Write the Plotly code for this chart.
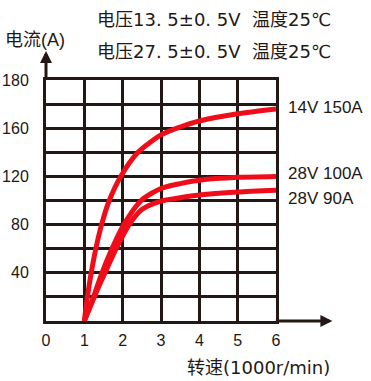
import plotly.graph_objects as go

# data
x_14v_150a = [1, 1.08, 1.18, 1.3, 1.45, 1.65, 1.95, 2.4, 3, 3.5, 4, 5, 6]
y_14v_150a = [0, 20, 40, 60, 80, 100, 120, 140, 154.5, 161, 166, 172, 176]
x_28v_100a = [1, 1.24, 1.46, 1.72, 2.03, 2.5, 3, 3.5, 4, 5, 6]
y_28v_100a = [0, 20, 40, 60, 80, 100.5, 110, 114, 116.8, 119.2, 120]
x_28v_90a = [1, 1.26, 1.54, 1.83, 2.17, 2.5, 3, 3.5, 4, 5, 6]
y_28v_90a = [0, 20, 40, 60, 80, 92.5, 99.5, 102.3, 104.5, 107, 108.5]
series_names = ["14V 150A", "28V 100A", "28V 90A"]
x_ticks = [0, 1, 2, 3, 4, 5, 6]
y_tickvals = [40, 80, 120, 160, 200]
y_ticktext = ["40", "80", "120", "160", "180"]

RED = "#f00d1a"
DARK = "#231815"
FONT = "Liberation Sans, Arial, Noto Sans CJK SC"
TFONT = "DejaVu Sans, Noto Sans CJK SC"

fig = go.Figure()
for xs, ys, nm in [(x_14v_150a, y_14v_150a, series_names[0]),
                   (x_28v_100a, y_28v_100a, series_names[1]),
                   (x_28v_90a, y_28v_90a, series_names[2])]:
    fig.add_trace(go.Scatter(x=xs, y=ys, mode="lines", name=nm,
                             line=dict(color=RED, width=5, shape="spline", smoothing=0.7),
                             showlegend=False, cliponaxis=False))

fig.update_layout(
    width=371, height=381,
    margin=dict(l=46, r=95, t=80, b=60, autoexpand=False),
    paper_bgcolor="white", plot_bgcolor="white",
    font=dict(family=FONT, size=16, color=DARK),
)
fig.update_xaxes(range=[0, 6], tickvals=x_ticks, ticktext=[str(v) for v in x_ticks],
                 showgrid=True, gridcolor=DARK, gridwidth=3, automargin=False,
                 showline=True, linecolor=DARK, linewidth=3, mirror=True,
                 zeroline=False, ticks="", ticklabelstandoff=3,
                 tickfont=dict(size=16, color=DARK))
fig.update_yaxes(range=[0, 200], tickvals=y_tickvals, ticktext=y_ticktext,
                 showgrid=True, gridcolor=DARK, gridwidth=3, automargin=False,
                 minor=dict(dtick=20, tick0=0, showgrid=True, gridcolor=DARK, gridwidth=3),
                 showline=True, linecolor=DARK, linewidth=3, mirror=True,
                 zeroline=False, ticks="", ticklabelstandoff=11,
                 tickfont=dict(size=16, color=DARK))

# axis arrows
fig.add_annotation(x=0, y=1.12, xref="paper", yref="paper", ax=0, ay=30,
                   showarrow=True, arrowhead=2, arrowwidth=3, arrowsize=0.8,
                   arrowcolor=DARK, text="")
fig.add_annotation(x=1.245, y=0, xref="paper", yref="paper", ax=-58, ay=0,
                   showarrow=True, arrowhead=2, arrowwidth=3, arrowsize=0.8,
                   arrowcolor=DARK, text="")

# texts
fig.add_annotation(x=0.212, y=1.253, xref="paper", yref="paper", xanchor="left", yanchor="middle",
                   text="电压13. 5±0. 5V  温度25℃", showarrow=False, font=dict(family=TFONT, size=18, color=DARK))
fig.add_annotation(x=0.212, y=1.12, xref="paper", yref="paper", xanchor="left", yanchor="middle",
                   text="电压27. 5±0. 5V  温度25℃", showarrow=False, font=dict(family=TFONT, size=18, color=DARK))
fig.add_annotation(x=-0.185, y=1.166, xref="paper", yref="paper", xanchor="left", yanchor="middle",
                   text="电流(A)", showarrow=False, font=dict(size=18, color=DARK))
fig.add_annotation(x=1.245, y=-0.191, xref="paper", yref="paper", xanchor="right", yanchor="middle",
                   text="转速(1000r/min)", showarrow=False, font=dict(family=TFONT, size=18, color=DARK))
for nm, yp in zip(series_names, [0.884, 0.614, 0.510]):
    fig.add_annotation(x=1.045, y=yp, xref="paper", yref="paper", xanchor="left", yanchor="middle",
                       text=nm, showarrow=False, font=dict(size=17, color=DARK))

fig.write_html("out.html", post_script="document.body.style.margin='0';",
               config={"displayModeBar": False})
